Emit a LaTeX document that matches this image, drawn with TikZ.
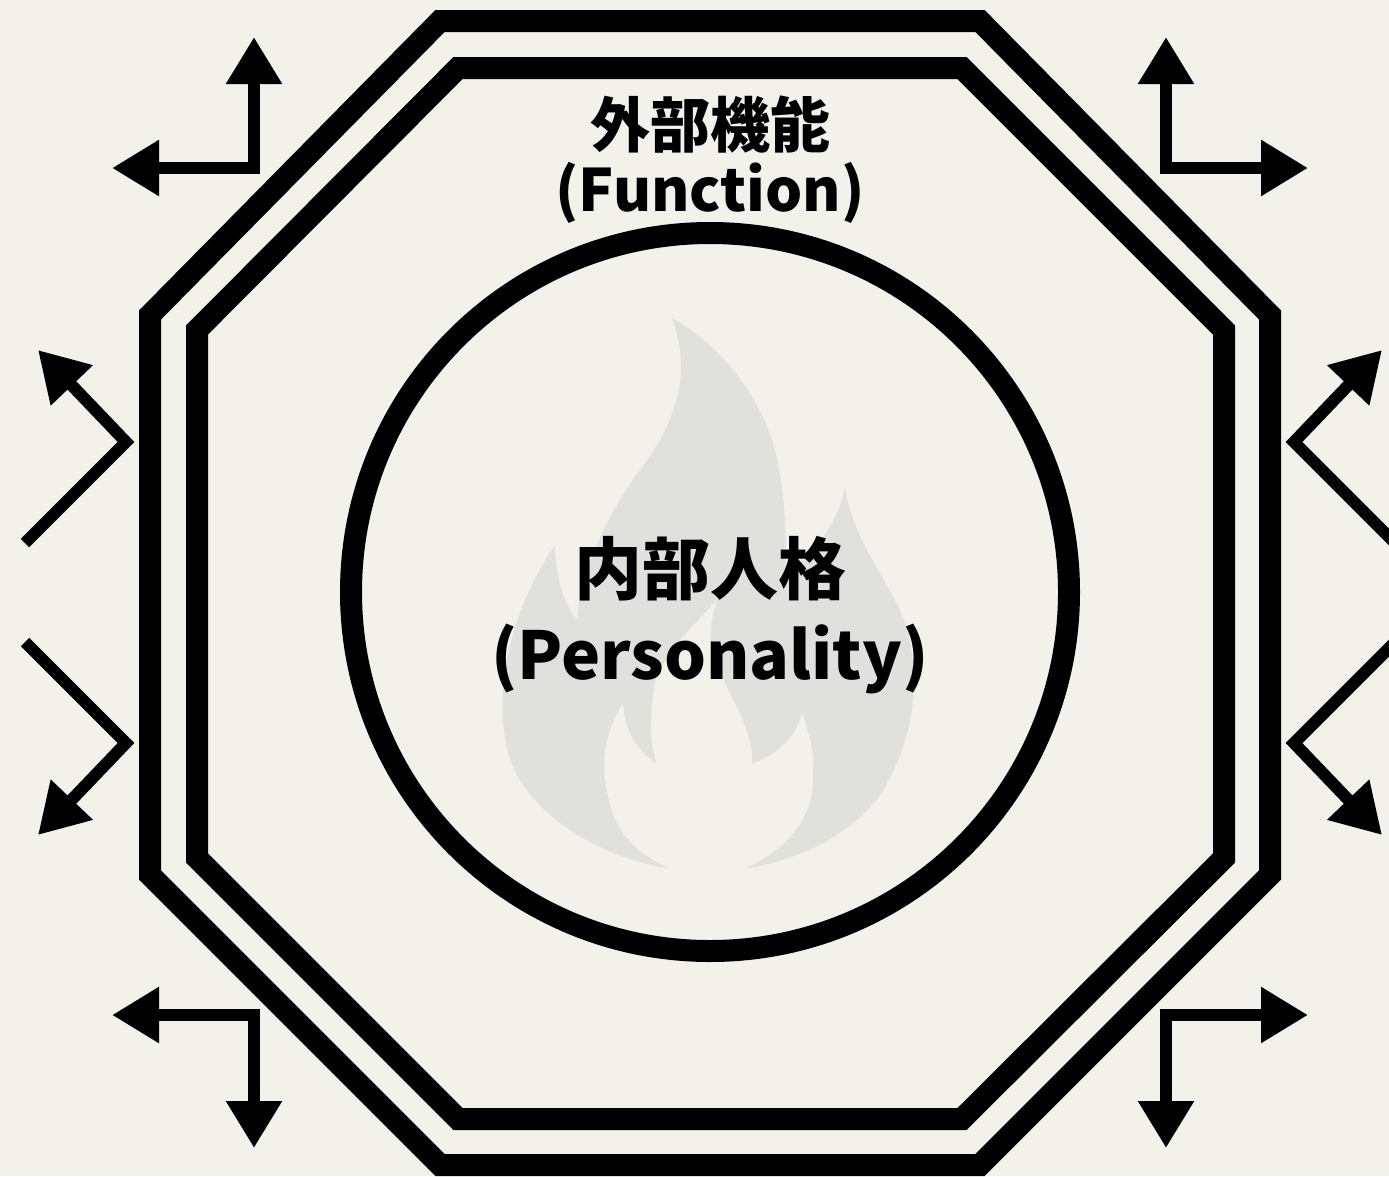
\documentclass[tikz,border=0pt]{standalone}
\usepackage{fontspec}
\setmainfont{Noto Sans CJK JP}
\usetikzlibrary{arrows.meta, positioning}
\definecolor{paper}{HTML}{F2F2EA}
\definecolor{flamegray}{HTML}{E0E0DC}
\tikzset{
	wall/.style={draw=black, line width=22pt, miter limit=10},
	pointer/.style={draw=black, line width=12pt, miter limit=10, >={Triangle[length=47pt, width=53pt]}},
	slant/.style={draw=black, line width=12pt, miter limit=10, >={Triangle[length=49pt, width=55pt]}},
}

\begin{document}
\begin{tikzpicture}[x=1pt, y=-1pt]
        \useasboundingbox (0,0) rectangle (1389,1176);
        \fill[paper] (0,0) rectangle (1389,1176);

        % Flame behind the text
        \fill[flamegray] (672,318) .. controls (720,345) and (760,395) .. (775,450)
            .. controls (785,490) and (787,540) .. (785,575)
            .. controls (805,560) and (838,530) .. (845,486)
            .. controls (850,530) and (880,570) .. (900,610)
            .. controls (925,670) and (915,740) .. (880,795)
            .. controls (850,835) and (800,860) .. (743,869)
            -- (673,869)
            .. controls (610,860) and (545,825) .. (517,775)
            .. controls (490,725) and (500,625) .. (555,545)
            .. controls (555,580) and (565,605) .. (577,620)
            .. controls (580,570) and (610,510) .. (640,470)
            .. controls (670,430) and (695,380) .. (672,318) -- cycle;
        \fill[paper] (717,600) .. controls (690,630) and (655,660) .. (653,695)
            .. controls (650,725) and (650,745) .. (657,764)
            .. controls (630,745) and (625,725) .. (623,703)
            .. controls (600,740) and (600,775) .. (613,814)
            .. controls (625,845) and (650,860) .. (673,870)
            -- (743,870)
            .. controls (785,850) and (815,820) .. (813,774)
            .. controls (815,750) and (808,730) .. (802,713)
            .. controls (795,740) and (775,755) .. (752,764)
            .. controls (755,730) and (725,690) .. (713,655)
            .. controls (708,635) and (712,615) .. (717,600) -- cycle;

        % Walls
        \draw[wall] (440,21) -- (980,21) -- (1270,315) -- (1270,875) -- (980,1165) -- (440,1165) -- (150,875) -- (150,315) -- cycle;
        \draw[wall] (458,68) -- (962,68) -- (1224,330) -- (1224,858) -- (962,1119) -- (458,1119) -- (197,858) -- (197,330) -- cycle;
        \node[draw, circle, line width=22pt, minimum size=718pt, inner sep=0pt] (core) at (710,592) {};

        % Labels
        \node[align=center, inner sep=0pt, font=\bfseries] (function) at (710,160) {\fontsize{60}{67}\selectfont 外部機能\\[8pt]\fontsize{58.5}{67}\selectfont (Function)};
        \node[align=center, inner sep=0pt, font=\bfseries] (personality) at (710,615) {\fontsize{68}{86}\selectfont 内部人格\\[22pt]\fontsize{66}{86}\selectfont (Personality)};

        % Corner arrows
        \coordinate (tlbend) at (254,168);
        \coordinate (tlup) at (254,37);
        \coordinate (tlout) at (112,168);
        \coordinate (trbend) at (1166,168);
        \coordinate (trup) at (1166,37);
        \coordinate (trout) at (1308,168);
        \coordinate (blbend) at (254,1015);
        \coordinate (bldown) at (254,1148);
        \coordinate (blout) at (112,1015);
        \coordinate (brbend) at (1166,1015);
        \coordinate (brdown) at (1166,1148);
        \coordinate (brout) at (1308,1015);
        \draw[pointer, <->] (tlup) -- (tlbend) -- (tlout);
        \draw[pointer, <->] (trup) -- (trbend) -- (trout);
        \draw[pointer, <->] (bldown) -- (blbend) -- (blout);
        \draw[pointer, <->] (brdown) -- (brbend) -- (brout);

        % Side arrows
        \coordinate (lutail) at (25,543);
        \coordinate (lubend) at (126,442);
        \coordinate (luhead) at (38,350);
        \coordinate (ldtail) at (25,642);
        \coordinate (ldbend) at (126,743);
        \coordinate (ldhead) at (38,835);
        \coordinate (rutail) at (1395,543);
        \coordinate (rubend) at (1294,442);
        \coordinate (ruhead) at (1382,350);
        \coordinate (rdtail) at (1395,642);
        \coordinate (rdbend) at (1294,743);
        \coordinate (rdhead) at (1382,835);
        \draw[slant, ->] (lutail) -- (lubend) -- (luhead);
        \draw[slant, ->] (ldtail) -- (ldbend) -- (ldhead);
        \draw[slant, ->] (rutail) -- (rubend) -- (ruhead);
        \draw[slant, ->] (rdtail) -- (rdbend) -- (rdhead);
    \end{tikzpicture}
\end{document}
